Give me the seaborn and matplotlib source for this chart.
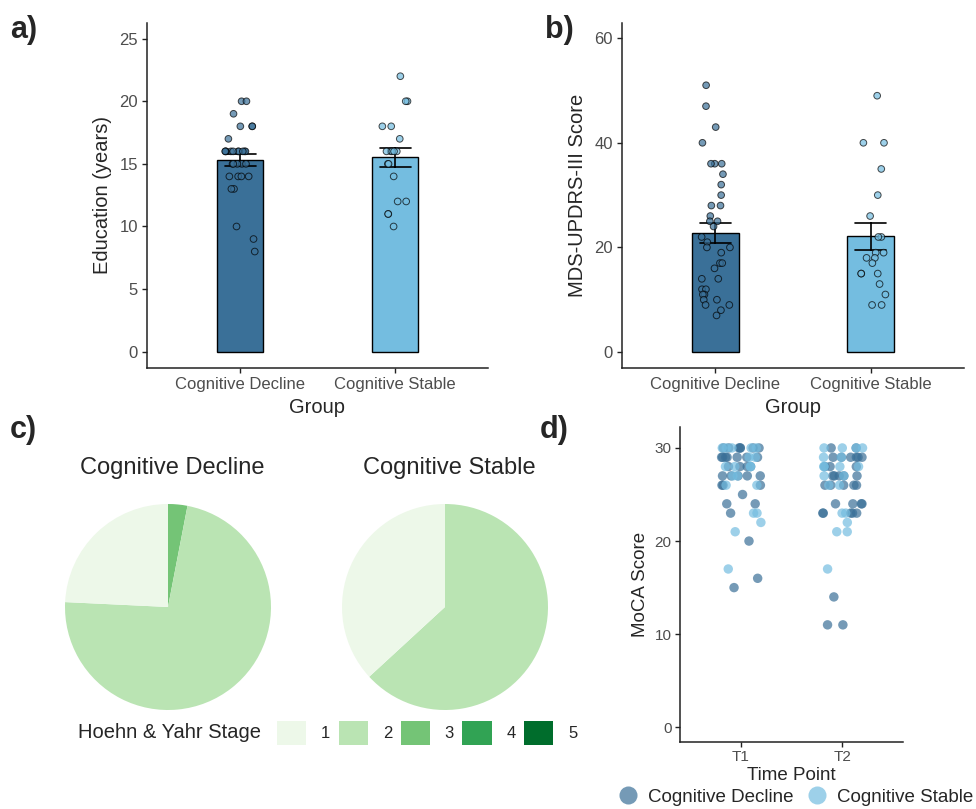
import numpy as np
import pandas as pd
import matplotlib.pyplot as plt
import seaborn as sns
from matplotlib.patches import Patch
from matplotlib.lines import Line2D

np.random.seed(3)

# groups and colours
groups = ['Cognitive Decline', 'Cognitive Stable']
pal = {'Cognitive Decline': '#3A7098', 'Cognitive Stable': '#74BDE0'}

# a) education (years)
edu_decline = [20, 20, 19, 18, 18, 18, 17,
               16, 16, 16, 16, 16, 16, 16, 16, 16, 16,
               15, 15, 15, 15, 15, 14, 14, 14, 14, 13, 13, 10, 9, 8]
edu_stable = [22, 20, 20, 18, 18, 17, 16, 16, 16, 16, 16,
              15, 15, 14, 12, 12, 11, 11, 10]

# b) MDS-UPDRS-III score
updrs_decline = [51, 47, 43, 40, 36, 36, 36, 34, 32, 30, 28, 28, 26, 25, 25, 24,
                 22, 21, 20, 20, 19, 17, 17, 16, 14, 14, 12, 12, 11, 11, 10, 10,
                 9, 9, 8, 7]
updrs_stable = [49, 40, 40, 35, 30, 26, 22, 22, 19, 19, 18, 18, 17,
                15, 15, 15, 13, 11, 9, 9]

# c) Hoehn & Yahr stage counts
hy_stages = ['1', '2', '3', '4', '5']
hy_colors = ['#EDF8E9', '#BAE4B3', '#74C476', '#31A354', '#006D2C']
hy_decline = [8, 24, 1, 0, 0]
hy_stable = [7, 12, 0, 0, 0]

# d) MoCA score at T1 / T2
time_points = ['T1', 'T2']
moca_t1_decline = [30, 30, 30, 30, 30, 30, 30, 29, 29, 29, 29, 29, 29, 29,
                   28, 28, 28, 28, 27, 27, 27, 27, 27, 26, 26, 26, 25, 24, 24,
                   23, 20, 16, 15]
moca_t1_stable = [30, 30, 30, 30, 30, 29, 29, 28, 28, 28, 28, 27, 27, 26, 26,
                  23, 23, 22, 21, 17]
moca_t2_decline = [30, 30, 29, 29, 29, 29, 29, 29, 28, 28, 28, 27, 27, 27, 27, 27,
                   26, 26, 26, 26, 26, 24, 24, 24, 24, 23, 23, 23, 23, 23,
                   14, 11, 11]
moca_t2_stable = [30, 30, 30, 30, 29, 29, 28, 28, 28, 28, 27, 27, 26, 26,
                  23, 23, 22, 21, 21, 17]

edu = pd.DataFrame({'group': [groups[0]] * len(edu_decline) + [groups[1]] * len(edu_stable),
                    'value': edu_decline + edu_stable})
updrs = pd.DataFrame({'group': [groups[0]] * len(updrs_decline) + [groups[1]] * len(updrs_stable),
                      'value': updrs_decline + updrs_stable})
moca = pd.DataFrame({
    'time': ['T1'] * (len(moca_t1_decline) + len(moca_t1_stable))
            + ['T2'] * (len(moca_t2_decline) + len(moca_t2_stable)),
    'group': [groups[0]] * len(moca_t1_decline) + [groups[1]] * len(moca_t1_stable)
             + [groups[0]] * len(moca_t2_decline) + [groups[1]] * len(moca_t2_stable),
    'value': moca_t1_decline + moca_t1_stable + moca_t2_decline + moca_t2_stable})

sns.set_theme(style='ticks')
plt.rcParams['font.family'] = ['Liberation Sans', 'DejaVu Sans']
plt.rcParams['axes.linewidth'] = 1.1
plt.rcParams['axes.edgecolor'] = '#222222'

W, H = 976, 809
fig = plt.figure(figsize=(W / 100, H / 100), dpi=100)


def box(l, t, r, b):
    return [l / W, 1 - b / H, (r - l) / W, (b - t) / H]


def bar_panel(ax, df, ylabel, ylim, yticks):
    sns.barplot(data=df, x='group', y='value', hue='group', palette=pal, order=groups,
                width=0.3, saturation=1, errorbar='se', capsize=0.2, edgecolor='black',
                linewidth=1, err_kws={'color': 'black', 'linewidth': 1.2}, legend=False, ax=ax)
    sns.stripplot(data=df, x='group', y='value', hue='group', palette=pal, order=groups,
                  jitter=0.1, size=4.8, edgecolor='black', linewidth=0.7, alpha=0.7,
                  legend=False, ax=ax)
    ax.set_xlim(-0.6, 1.6)
    ax.set_ylim(*ylim)
    ax.set_yticks(yticks)
    ax.set_xlabel('Group', fontsize=14.5, labelpad=4)
    ax.set_ylabel(ylabel, fontsize=14.5, labelpad=5)
    ax.tick_params(labelsize=12, labelcolor='#4D4D4D', color='#222222', width=1,
                   length=3.5, pad=3)
    sns.despine(ax=ax)


ax_a = fig.add_axes(box(147, 23, 488, 368))
bar_panel(ax_a, edu, 'Education (years)', (-1.3, 26.25), [0, 5, 10, 15, 20, 25])

ax_b = fig.add_axes(box(622, 23, 964, 368))
bar_panel(ax_b, updrs, 'MDS-UPDRS-III Score', (-3.05, 62.9), [0, 20, 40, 60])

# c) pies, drawn clockwise from the top with the highest stage first
r = 103
for cx, counts, title in [(168, hy_decline, groups[0]), (445, hy_stable, groups[1])]:
    ax = fig.add_axes(box(cx - r, 607 - r, cx + r, 607 + r))
    vals = [v for v in counts[::-1] if v > 0]
    cols = [c for c, v in zip(hy_colors[::-1], counts[::-1]) if v > 0]
    ax.pie(vals, colors=cols, startangle=90, counterclock=False,
           wedgeprops={'linewidth': 0})
    ax.set_xlim(-1, 1)
    ax.set_ylim(-1, 1)
    fig.text((cx + 4) / W, 1 - 468 / H, title, fontsize=17, ha='center', va='center')

fig.text(78 / W, 1 - 733 / H, 'Hoehn & Yahr Stage', fontsize=14.5, ha='left', va='center')
fig.legend(handles=[Patch(facecolor=c, edgecolor='none') for c in hy_colors],
           labels=hy_stages, ncol=5, frameon=False, fontsize=12,
           loc='center left', bbox_to_anchor=(277 / W, 1 - 733 / H),
           handlelength=1.75, handleheight=1.75, handletextpad=0.9,
           columnspacing=0.5, borderpad=0, borderaxespad=0)

# d) MoCA strip plot
ax_d = fig.add_axes(box(680, 427, 903, 741.7))
sns.stripplot(data=moca, x='time', y='value', hue='group', palette=pal, order=time_points,
              hue_order=groups, jitter=0.21, size=6.8, linewidth=0, alpha=0.7,
              legend=False, ax=ax_d)
ax_d.set_xlim(-0.6, 1.6)
ax_d.set_ylim(-1.55, 32.25)
ax_d.set_yticks([0, 10, 20, 30])
ax_d.set_xlabel('Time Point', fontsize=13.5, labelpad=2)
ax_d.set_ylabel('MoCA Score', fontsize=13.5, labelpad=4)
ax_d.tick_params(labelsize=11, labelcolor='#4D4D4D', color='#222222', width=1,
                 length=3.5, pad=2.5)
sns.despine(ax=ax_d)

fig.legend(handles=[Line2D([], [], marker='o', linestyle='', markersize=13,
                           markerfacecolor=pal[g], markeredgewidth=0, alpha=0.7)
                    for g in groups],
           labels=groups, ncol=2, frameon=False, fontsize=13.5,
           loc='center', bbox_to_anchor=(795 / W, 1 - 797 / H),
           handlelength=1.2, handletextpad=0.5, columnspacing=0.6,
           borderpad=0, borderaxespad=0)

# panel letters
for x, y, s in [(10, 30, 'a)'), (545, 30, 'b)'), (10, 430, 'c)'), (540, 430, 'd)')]:
    fig.text(x / W, 1 - y / H, s, fontsize=22, fontweight='bold', ha='left', va='center')

fig.savefig('out.png', dpi=100)
